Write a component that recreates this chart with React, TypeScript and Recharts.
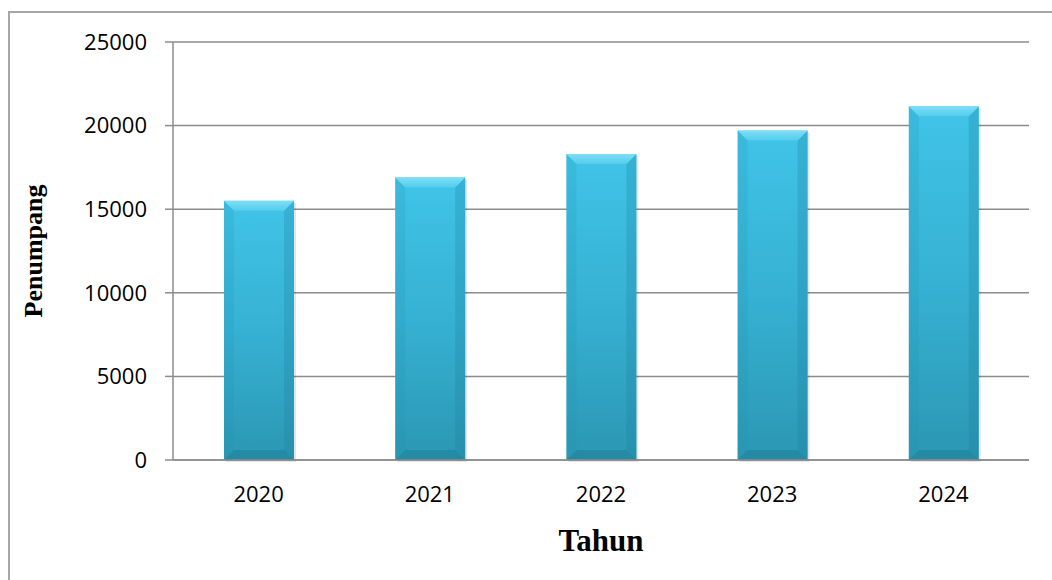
import React from 'react';
import { Bar, BarChart, XAxis, YAxis, CartesianGrid, Label } from 'recharts';

const years = ['2020', '2021', '2022', '2023', '2024'];
const passengers = [15500, 16900, 18300, 19700, 21150];
const yTicks = [0, 5000, 10000, 15000, 20000, 25000];

const data = years.map((year, i) => ({ year, passengers: passengers[i] }));

const gridColor = '#8c8c8c';
const tickFont = { fontFamily: '"Open Sans", sans-serif', fontSize: 22, fill: '#000' };

const BevelBar = (props: any) => {
  const { x, y, width, height } = props;
  if (!height || height <= 0) return null;
  const b = 10;
  return (
    <g>
      <rect x={x + 2} y={y + 2} width={width} height={height} fill="#000" opacity={0.1} />
      <rect x={x} y={y} width={width} height={height} fill="url(#barBody)" />
      <polygon
        points={`${x},${y} ${x + b},${y + b} ${x + b},${y + height - b} ${x},${y + height}`}
        fill="#1f8fae"
        opacity={0.18}
      />
      <polygon
        points={`${x + width},${y} ${x + width - b},${y + b} ${x + width - b},${y + height - b} ${x + width},${y + height}`}
        fill="#1b7d98"
        opacity={0.25}
      />
      <polygon
        points={`${x},${y + height} ${x + b},${y + height - b} ${x + width - b},${y + height - b} ${x + width},${y + height}`}
        fill="#1b6f87"
        opacity={0.35}
      />
      <polygon
        points={`${x},${y} ${x + width},${y} ${x + width - b},${y + b} ${x + b},${y + b}`}
        fill="url(#barTop)"
      />
    </g>
  );
};

export default function App() {
  return (
    <div style={{ position: 'absolute', left: 0, top: 0, width: 1052, height: 580, background: '#fff' }}>
      <div
        style={{
          position: 'absolute',
          left: 8,
          top: 11,
          width: 1044,
          height: 569,
          borderLeft: '2px solid #a6a6a6',
          borderTop: '2px solid #a6a6a6',
          boxSizing: 'border-box',
        }}
      />
      <div style={{ position: 'absolute', left: 0, top: 0 }}>
        <BarChart
          width={1052}
          height={580}
          data={data}
          margin={{ top: 42, right: 23, left: 93, bottom: 60 }}
          barSize={70}
        >
          <defs>
            <linearGradient id="barBody" x1="0" y1="0" x2="0" y2="1">
              <stop offset="0%" stopColor="#40c4e8" />
              <stop offset="50%" stopColor="#36b1d3" />
              <stop offset="100%" stopColor="#2b97b3" />
            </linearGradient>
            <linearGradient id="barTop" x1="0" y1="0" x2="0" y2="1">
              <stop offset="0%" stopColor="#7fdef6" />
              <stop offset="100%" stopColor="#52cdee" />
            </linearGradient>
          </defs>
          <CartesianGrid vertical={false} stroke={gridColor} strokeWidth={1.5} />
          <XAxis
            dataKey="year"
            axisLine={{ stroke: gridColor, strokeWidth: 1.5 }}
            tickLine={false}
            tickSize={0}
            tickMargin={26}
            tick={tickFont}
            height={60}
          >
            <Label
              content={() => (
                <text
                  x={601}
                  y={551}
                  textAnchor="middle"
                  fontFamily='"Liberation Serif", "Times New Roman", serif'
                  fontWeight="bold"
                  fontSize={31}
                  fill="#000"
                >
                  Tahun
                </text>
              )}
            />
          </XAxis>
          <YAxis
            domain={[0, 25000]}
            ticks={yTicks}
            interval={0}
            width={80}
            axisLine={{ stroke: gridColor, strokeWidth: 1.5 }}
            tickLine={{ stroke: gridColor, strokeWidth: 1.5 }}
            tickSize={8}
            tickMargin={18}
            tick={tickFont}
          >
            <Label
              content={() => (
                <text
                  x={42}
                  y={251}
                  transform="rotate(-90 42 251)"
                  textAnchor="middle"
                  fontFamily='"Liberation Serif", "Times New Roman", serif'
                  fontWeight="bold"
                  fontSize={26}
                  fill="#000"
                >
                  Penumpang
                </text>
              )}
            />
          </YAxis>
          <Bar dataKey="passengers" shape={<BevelBar />} isAnimationActive={false} />
        </BarChart>
      </div>
    </div>
  );
}
